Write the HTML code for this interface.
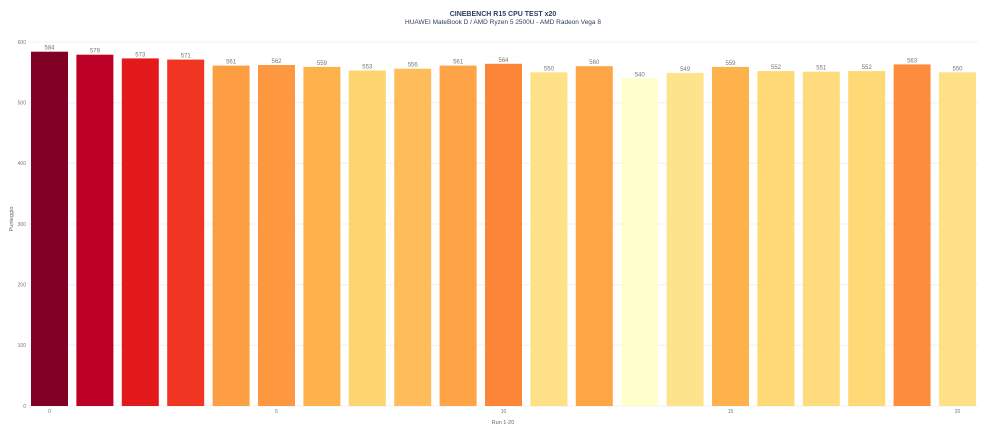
<!DOCTYPE html>
<html><head><meta charset="utf-8"><style>
html,body{margin:0;padding:0;background:#fff;}
svg{display:block;font-family:"Liberation Sans",sans-serif;}
</style></head><body>
<svg width="1000" height="432" viewBox="0 0 1000 432" xmlns="http://www.w3.org/2000/svg">
<text x="503" y="16" text-anchor="middle" font-size="7" font-weight="bold" fill="#2a3f5f">CINEBENCH R15 CPU TEST x20</text>
<text x="503" y="24" text-anchor="middle" font-size="6.5" fill="#2a3f5f">HUAWEI MateBook D / AMD Ryzen 5 2500U - AMD Radeon Vega 8</text>
<g stroke="#eef0f4" stroke-width="1">
<line x1="29" x2="978" y1="42" y2="42"/><line x1="29" x2="978" y1="102.7" y2="102.7"/><line x1="29" x2="978" y1="163.3" y2="163.3"/><line x1="29" x2="978" y1="224" y2="224"/><line x1="29" x2="978" y1="284.7" y2="284.7"/><line x1="29" x2="978" y1="345.3" y2="345.3"/><line x1="29" x2="978" y1="406" y2="406"/>
</g>
<g font-size="5" fill="#777" text-anchor="end">
<text x="26" y="44">600</text><text x="26" y="104.5">500</text><text x="26" y="165">400</text><text x="26" y="226">300</text><text x="26" y="286.5">200</text><text x="26" y="347">100</text><text x="26" y="408">0</text>
</g>
<text transform="translate(13,219) rotate(-90)" text-anchor="middle" font-size="5.5" fill="#666">Punteggio</text>
<text x="503" y="424" text-anchor="middle" font-size="5.5" fill="#666">Run 1-20</text>
<g>
<rect x="31" y="51.7" width="37" height="354.3" fill="#800026"/>
<rect x="76.4" y="54.7" width="37" height="351.3" fill="#bd0026"/>
<rect x="121.8" y="58.4" width="37" height="347.6" fill="#e31a1c"/>
<rect x="167.2" y="59.6" width="37" height="346.4" fill="#f03523"/>
<rect x="212.6" y="65.6" width="37" height="340.4" fill="#fd9e43"/>
<rect x="258" y="65.0" width="37" height="341" fill="#fd9840"/>
<rect x="303.4" y="66.9" width="37" height="339.1" fill="#feb24c"/>
<rect x="348.8" y="70.5" width="37" height="335.5" fill="#fed470"/>
<rect x="394.2" y="68.7" width="37" height="337.3" fill="#febd5a"/>
<rect x="439.6" y="65.6" width="37" height="340.4" fill="#fea446"/>
<rect x="485" y="63.8" width="37" height="342.2" fill="#fd8538"/>
<rect x="530.4" y="72.3" width="37" height="333.7" fill="#fee087"/>
<rect x="575.8" y="66.2" width="37" height="339.8" fill="#fea646"/>
<rect x="621.2" y="78.4" width="37" height="327.6" fill="#ffffcc"/>
<rect x="666.6" y="72.9" width="37" height="333.1" fill="#fee38d"/>
<rect x="712" y="66.9" width="37" height="339.1" fill="#feb24c"/>
<rect x="757.4" y="71.1" width="37" height="334.9" fill="#fed976"/>
<rect x="802.8" y="71.7" width="37" height="334.3" fill="#fedc7e"/>
<rect x="848.2" y="71.1" width="37" height="334.9" fill="#fed976"/>
<rect x="893.6" y="64.4" width="37" height="341.6" fill="#fd8c3c"/>
<rect x="939" y="72.3" width="37" height="333.7" fill="#fee087"/>
</g>
<g font-size="6" fill="#777" text-anchor="middle">
<text x="49.5" y="49.7">584</text>
<text x="94.9" y="52.7">579</text>
<text x="140.3" y="56.4">573</text>
<text x="185.7" y="57.6">571</text>
<text x="231.1" y="63.6">561</text>
<text x="276.5" y="63">562</text>
<text x="321.9" y="64.9">559</text>
<text x="367.3" y="68.5">553</text>
<text x="412.7" y="66.7">556</text>
<text x="458.1" y="63.6">561</text>
<text x="503.5" y="61.8">564</text>
<text x="548.9" y="70.3">550</text>
<text x="594.3" y="64.2">560</text>
<text x="639.7" y="76.4">540</text>
<text x="685.1" y="70.9">549</text>
<text x="730.5" y="64.9">559</text>
<text x="775.9" y="69.1">552</text>
<text x="821.3" y="69.7">551</text>
<text x="866.7" y="69.1">552</text>
<text x="912.1" y="62.4">563</text>
<text x="957.5" y="70.3">550</text>
</g>
<g font-size="5" fill="#777" text-anchor="middle">
<text x="49.5" y="413">0</text><text x="276.5" y="413">5</text><text x="503.5" y="413">10</text><text x="730.5" y="413">15</text><text x="957.5" y="413">20</text>
</g>
</svg>
</body></html>
